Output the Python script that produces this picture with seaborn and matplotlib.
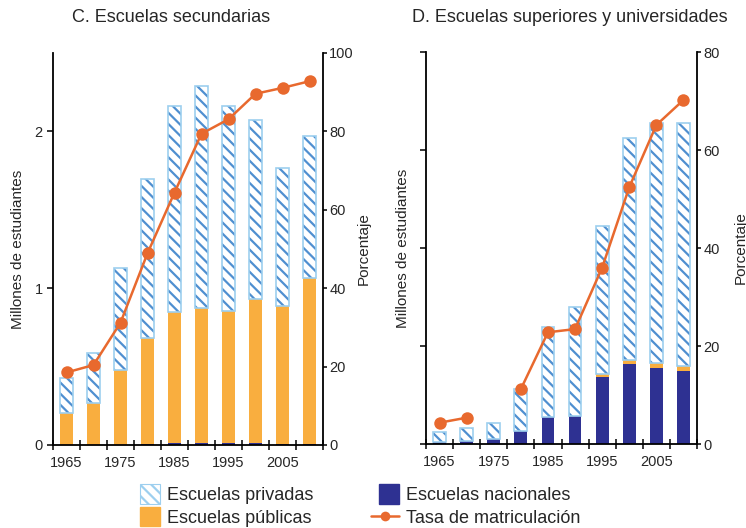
import numpy as np
import pandas as pd
import matplotlib
matplotlib.use("Agg")
import matplotlib.pyplot as plt
import matplotlib.patches as mpatches
from matplotlib.lines import Line2D
from matplotlib.legend_handler import HandlerPatch
import seaborn as sns

# data
years = ['1965', '1970', '1975', '1980', '1985', '1990', '1995', '2000', '2005', '2010']
year_labels = ['1965', '1975', '1985', '1995', '2005']

# C. secondary schools (millions of students), rate in %
sec_nacional = [0, 0, 0, 0.005, 0.01, 0.01, 0.01, 0.01, 0.005, 0.005]
sec_publica = [0.202, 0.266, 0.479, 0.676, 0.837, 0.862, 0.847, 0.922, 0.882, 1.057]
sec_privada = [0.224, 0.323, 0.649, 1.017, 1.313, 1.418, 1.307, 1.142, 0.879, 0.906]
sec_tasa = [18.5, 20.4, 31.2, 48.9, 64.4, 79.4, 83.1, 89.6, 91.1, 92.8]

# D. higher education
sup_nacional = [0.017, 0.03, 0.054, 0.133, 0.272, 0.285, 0.683, 0.816, 0.771, 0.748]
sup_publica = [0, 0, 0, 0, 0, 0, 0.031, 0.04, 0.051, 0.051]
sup_privada = [0.102, 0.13, 0.164, 0.424, 0.924, 1.108, 1.512, 2.267, 2.454, 2.477]
sup_tasa = [4.35, 5.37, np.nan, 11.2, 22.8, 23.45, 36.0, 52.4, 65.1, 70.2]

ORANGE = '#F9AE3F'
NAVY = '#2E3192'
LIGHTBLUE = '#9DCFEF'
HATCHBLUE = '#4F8FD0'
LINE = '#E8692E'
HATCH = '\\\\\\'

sns.set_style('ticks')
plt.rcParams['font.family'] = ['Liberation Sans', 'DejaVu Sans']
plt.rcParams['hatch.linewidth'] = 1.6
plt.rcParams['font.size'] = 11

fig = plt.figure(figsize=(7.46, 5.28), dpi=100)
axC = fig.add_axes([53/746, 1-445/528, 270/746, 392/528])
axD = fig.add_axes([426/746, 1-444/528, 271/746, 392/528])


def draw_panel(ax, nac, pub, priv, tasa, ymax, rmax, rticks):
    df = pd.DataFrame({'year': years, 'nac': nac, 'pub': pub, 'priv': priv, 'tasa': tasa})
    df['base_priv'] = df['nac'] + df['pub']
    common = dict(x='year', order=years, width=0.47, errorbar=None, saturation=1, ax=ax)
    sns.barplot(data=df, y='nac', color=NAVY, linewidth=0, **common)
    sns.barplot(data=df, y='pub', color=ORANGE, linewidth=0, bottom=df['nac'].values, **common)
    sns.barplot(data=df, y='priv', color='white', edgecolor=HATCHBLUE, linewidth=0,
                hatch=HATCH, bottom=df['base_priv'].values, **common)
    sns.barplot(data=df, y='priv', color=LIGHTBLUE, facecolor='none', edgecolor=LIGHTBLUE,
                linewidth=1.2, bottom=df['base_priv'].values, **common)

    ax.set_ylim(0, ymax)
    ax.set_xlim(-0.5, 9.5)
    ax.set_xlabel('')
    ax.set_xticks(np.arange(-0.5, 9.6, 1))
    ax.set_xticklabels([])
    ax.set_xticks([0, 2, 4, 6, 8], minor=True)
    ax.set_xticklabels(year_labels, minor=True, fontsize=10.5)
    ax.tick_params(axis='x', which='major', direction='inout', length=7, width=1.3)
    ax.tick_params(axis='x', which='minor', length=0, pad=8)
    ax.tick_params(axis='y', direction='out', length=4, width=1.3, labelsize=10.5)
    for s in ['top', 'right']:
        ax.spines[s].set_visible(False)
    for s in ['left', 'bottom']:
        ax.spines[s].set_linewidth(1.3)
        ax.spines[s].set_color('black')

    ax2 = ax.twinx()
    seg = np.cumsum(np.isnan(df['tasa'].values))
    ldf = pd.DataFrame({'pos': np.arange(len(years)), 'tasa': df['tasa'], 'seg': seg}).dropna()
    sns.lineplot(data=ldf, x='pos', y='tasa', units='seg', estimator=None, color=LINE,
                 marker='o', markersize=9, markeredgewidth=0, linewidth=1.8, ax=ax2)
    ax2.set_xlim(-0.5, 9.5)
    ax2.set_ylim(0, rmax)
    ax2.set_yticks(rticks)
    ax2.tick_params(axis='y', direction='out', length=3, width=1.3, pad=1.5, labelsize=10.5)
    for s in ['top', 'left', 'bottom']:
        ax2.spines[s].set_visible(False)
    ax2.spines['right'].set_linewidth(1.3)
    ax2.spines['right'].set_color('black')
    return ax2


axC2 = draw_panel(axC, sec_nacional, sec_publica, sec_privada, sec_tasa, 2.5, 100,
                  [0, 20, 40, 60, 80, 100])
axC.set_yticks([0, 1, 2])
axC.set_ylabel('Millones de estudiantes', fontsize=11, labelpad=7)
axC2.set_ylabel('Porcentaje', fontsize=11, labelpad=2)

axD2 = draw_panel(axD, sup_nacional, sup_publica, sup_privada, sup_tasa, 4, 80,
                  [0, 20, 40, 60, 80])
axD.set_yticks([0, 1, 2, 3, 4])
axD.set_yticklabels([])
axD.set_ylabel('Millones de estudiantes', fontsize=11, labelpad=4)
axD2.set_ylabel('Porcentaje', fontsize=11, labelpad=10)

fig.text(72/746, 1-18/528, 'C. Escuelas secundarias', ha='left', va='center', fontsize=13)
fig.text(412/746, 1-18/528, 'D. Escuelas superiores y universidades', ha='left', va='center',
         fontsize=13)


def square(legend, orig_handle, xdescent, ydescent, width, height, fontsize):
    s = 14
    return mpatches.Rectangle((width - s - xdescent, -ydescent + (height - s) / 2), s, s)


handles = [
    mpatches.Patch(facecolor='white', edgecolor=LIGHTBLUE, hatch=HATCH, linewidth=0.8,
                   label='Escuelas privadas'),
    mpatches.Patch(facecolor=ORANGE, edgecolor=ORANGE, label='Escuelas públicas'),
    mpatches.Patch(facecolor=NAVY, edgecolor=NAVY, label='Escuelas nacionales'),
    Line2D([0], [0], color=LINE, marker='o', markersize=7, markeredgewidth=0, linewidth=1.8,
           label='Tasa de matriculación'),
]
hm = HandlerPatch(patch_func=square)
fig.legend(handles=handles, loc='center', bbox_to_anchor=(356/746, 1-507/528), ncol=2,
           frameon=False, fontsize=13, handlelength=1.55, handletextpad=0.4,
           columnspacing=3.2, labelspacing=0.3,
           handler_map={mpatches.Patch: hm})

fig.savefig('out.png', dpi=100)
